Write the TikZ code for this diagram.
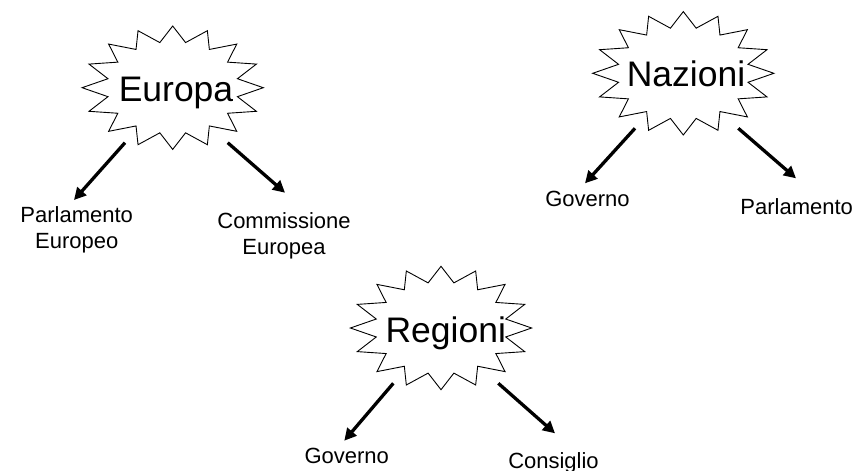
\documentclass[tikz,border=0pt]{standalone}
\usepackage{fontspec}
\setmainfont{Liberation Sans}
\usetikzlibrary{arrows.meta,calc}
\tikzset{
  burstline/.style={draw=black, line width=0.9pt, fill=white, line join=miter},
  bigtext/.style={font=\fontsize{35.5}{40}\selectfont, inner sep=0pt, anchor=base},
  smalltext/.style={font=\fontsize{22}{26}\selectfont, inner sep=0pt, anchor=base, align=center},
  arrowline/.style={line width=3.3pt, -{Triangle[length=12pt,width=12pt]}}
}
\newcommand{\myburst}[1]{%
  \draw[burstline] (#1) ++(0:90.6 and 61.7)
    \foreach \i in {0,...,15} { -- ($(#1)+({\i*22.5+11.25}:66 and 46)$) -- ($(#1)+({\i*22.5+22.5}:90.6 and 61.7)$) } -- cycle;}
\begin{document}
\begin{tikzpicture}[x=1pt,y=-1pt]
\path[use as bounding box, fill=white] (0,0) rectangle (857,471);
% centres
\coordinate (euc) at (172.7,87.7);
\coordinate (nac) at (683.3,73.3);
\coordinate (rec) at (441,328);
\myburst{euc}
\myburst{nac}
\myburst{rec}
\node[bigtext] (europa) at (176,101.7) {Europa};
\node[bigtext] (nazioni) at (686,86) {Nazioni};
\node[bigtext] (regioni) at (445.8,342.7) {Regioni};
% labels
\node[smalltext] (pe) at (76.7,248.5) {Parlamento\\Europeo};
\node[smalltext] (ce) at (284,254.5) {Commissione\\Europea};
\node[smalltext] (gn) at (587.5,206.7) {Governo};
\node[smalltext] (pn) at (796.7,214) {Parlamento};
\node[smalltext] (gr) at (346.7,463.3) {Governo};
\node[smalltext] (cr) at (553.5,468) {Consiglio};
% arrow endpoints
\coordinate (eus1) at (125,142.7);
\coordinate (eut1) at (74,200);
\coordinate (eus2) at (227.7,142.7);
\coordinate (eut2) at (285,192.7);
\coordinate (nas1) at (635,128.3);
\coordinate (nat1) at (585,183.3);
\coordinate (nas2) at (738.3,128.3);
\coordinate (nat2) at (796,178.3);
\coordinate (res1) at (393.3,383.3);
\coordinate (ret1) at (344.3,440.7);
\coordinate (res2) at (498.3,383.3);
\coordinate (ret2) at (555,433.3);
\draw[arrowline] (eus1) -- (eut1);
\draw[arrowline] (eus2) -- (eut2);
\draw[arrowline] (nas1) -- (nat1);
\draw[arrowline] (nas2) -- (nat2);
\draw[arrowline] (res1) -- (ret1);
\draw[arrowline] (res2) -- (ret2);
\end{tikzpicture}
\end{document}
